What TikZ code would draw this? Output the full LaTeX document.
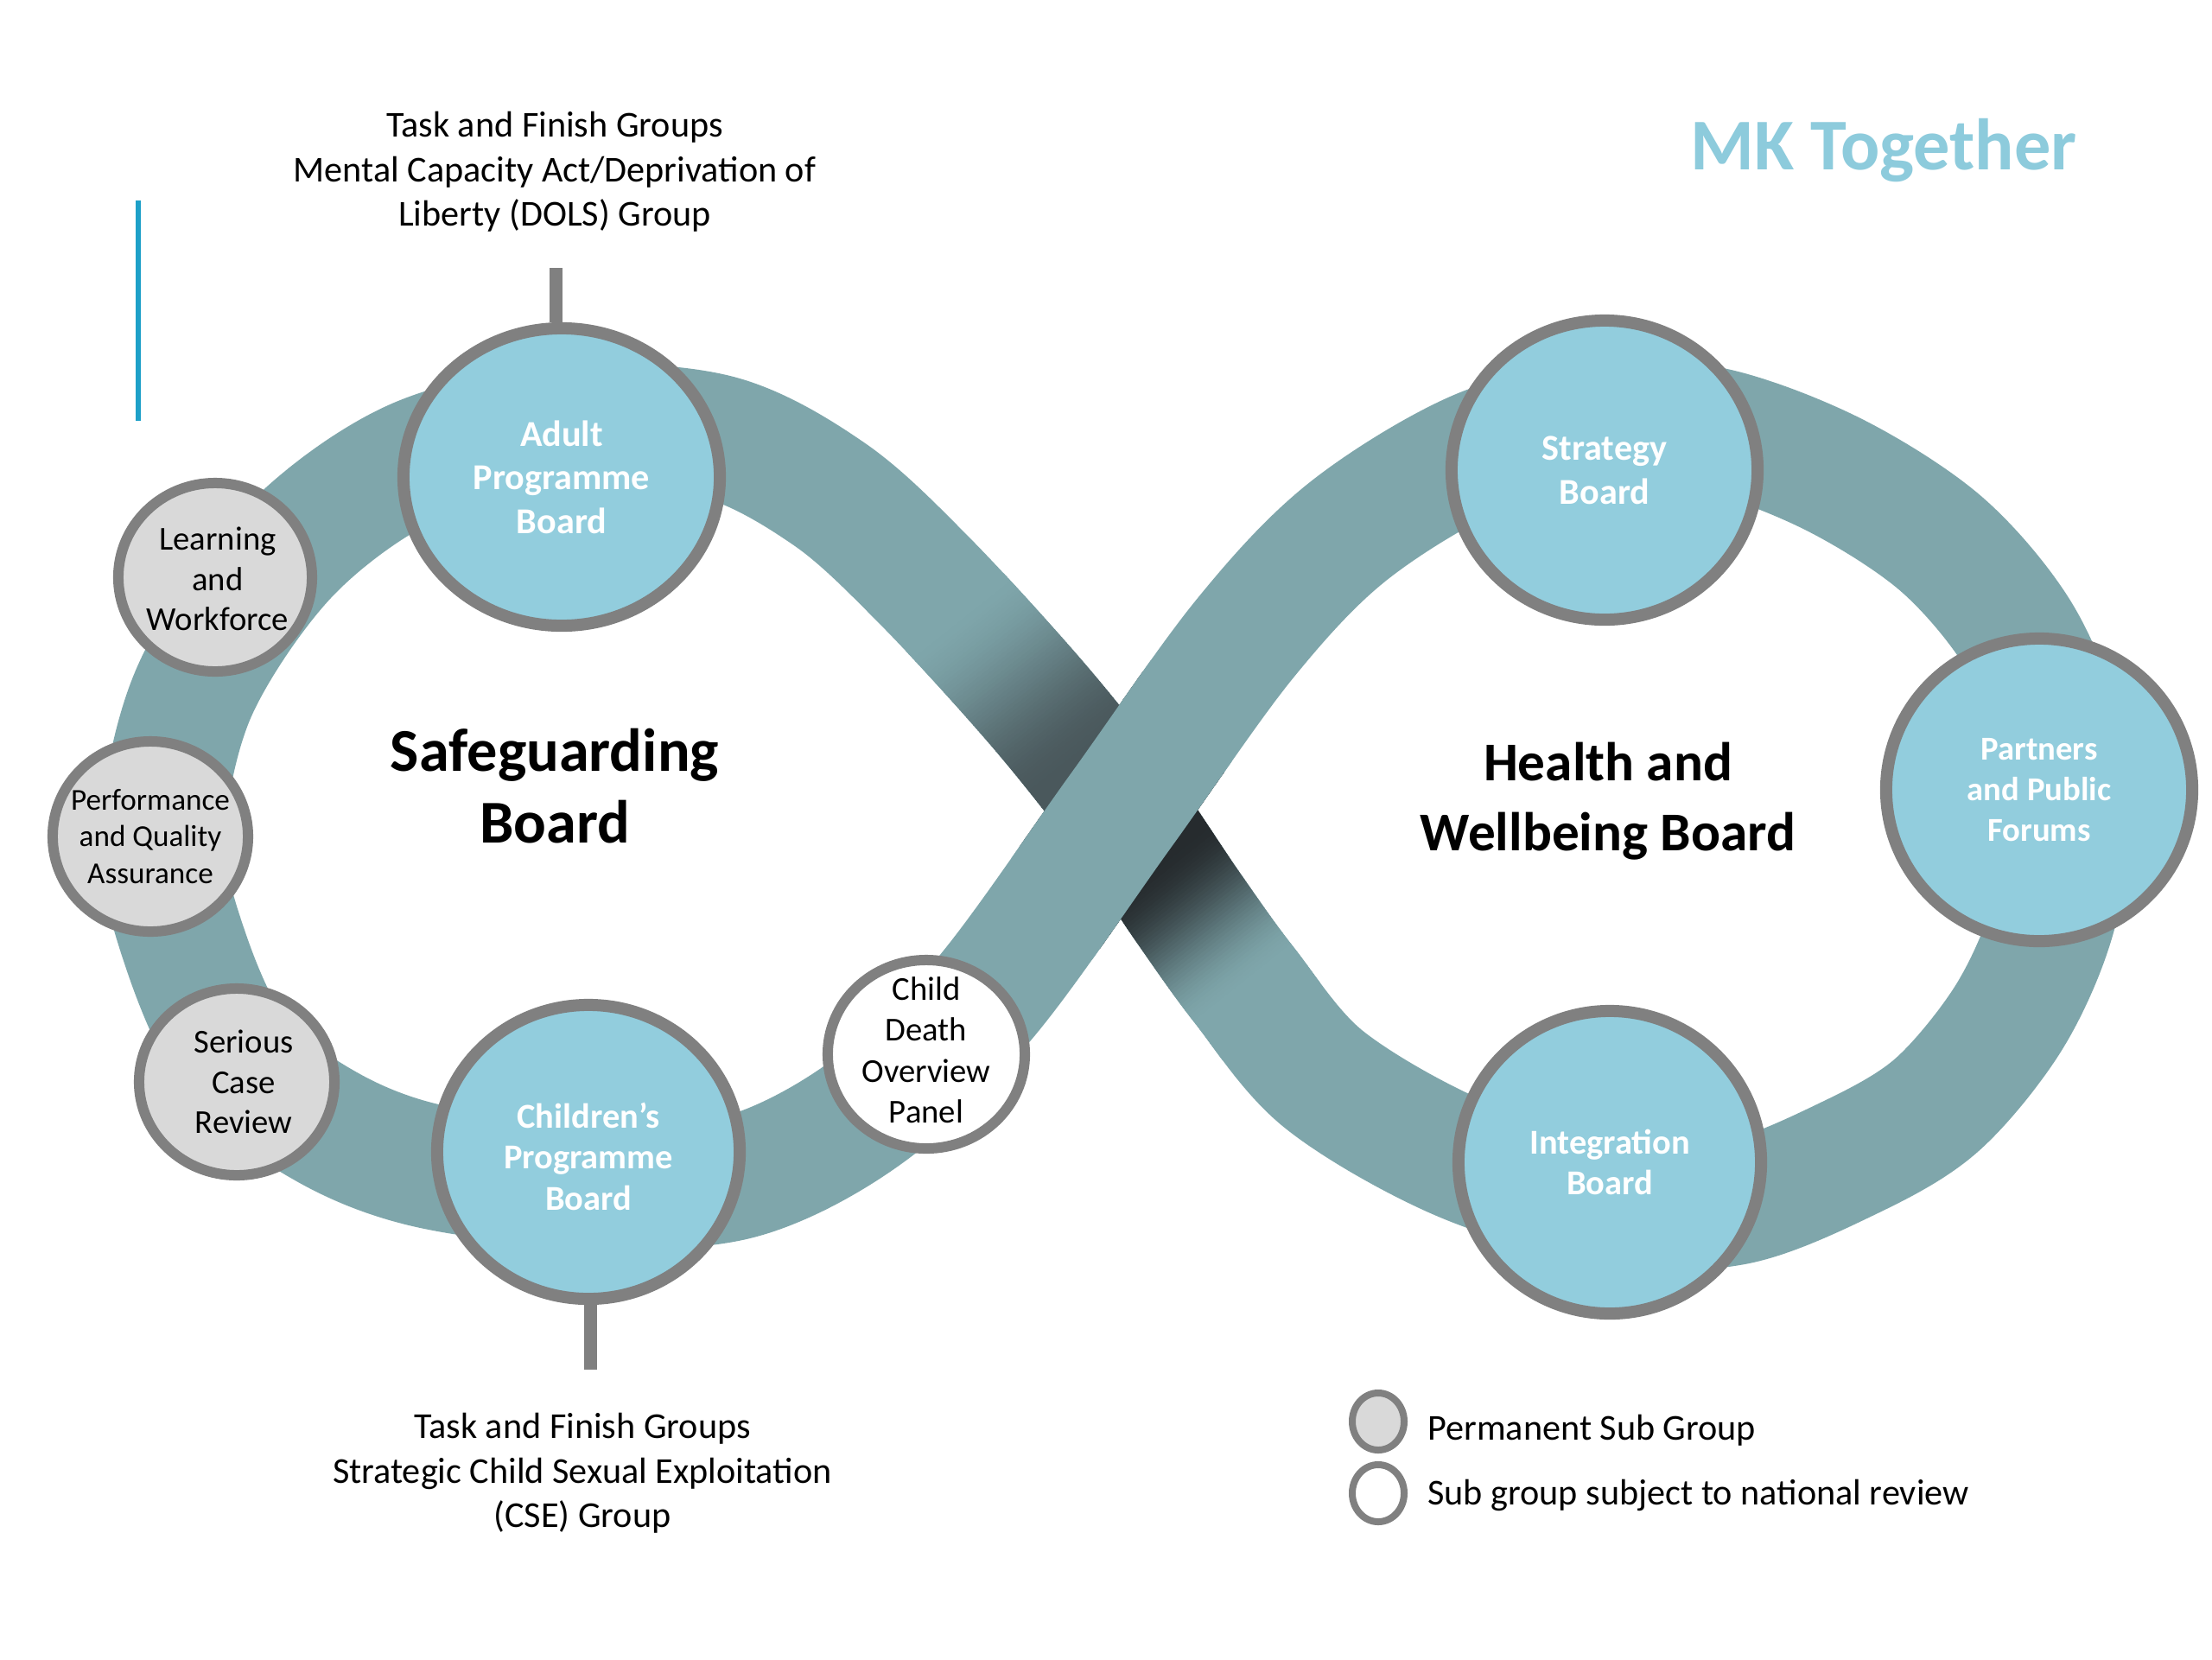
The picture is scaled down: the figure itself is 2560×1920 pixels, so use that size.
\documentclass[tikz,border=0pt]{standalone}
\usepackage{fontspec}
\setmainfont{Carlito}
\usetikzlibrary{shapes.geometric}
\definecolor{band}{RGB}{127,166,171}
\definecolor{boardfill}{RGB}{146,205,221}
\definecolor{ringgray}{RGB}{128,128,128}
\definecolor{subfill}{RGB}{217,217,217}
\definecolor{darkA}{RGB}{74,88,92}
\definecolor{darkB}{RGB}{38,43,46}
\definecolor{mkblue}{RGB}{141,203,220}
\definecolor{accent}{RGB}{30,160,200}
\tikzset{
  bandline/.style={line width=1.44cm, draw=band, line join=round},
  board/.style={ellipse, draw=ringgray, line width=0.14cm, fill=boardfill, inner sep=0pt},
  subgrp/.style={ellipse, draw=ringgray, line width=0.12cm, fill=subfill, inner sep=0pt},
  review/.style={ellipse, draw=ringgray, line width=0.12cm, fill=white, inner sep=0pt},
  boardtext/.style={align=center, text=white, font=\bfseries\fontsize{12}{14.4}\selectfont},
  subtext/.style={align=center, text=black, font=\fontsize{11}{13.3}\selectfont},
  conn/.style={draw=ringgray, line width=0.15cm},
  note/.style={align=center, font=\fontsize{12}{14.7}\selectfont},
  bigtitle/.style={align=center, font=\bfseries\fontsize{20}{23.6}\selectfont}
}
\begin{document}
\begin{tikzpicture}[x=0.01cm,y=-0.01cm]
\useasboundingbox (0,0) rectangle (2560,1920);
\fill[white] (0,0) rectangle (2560,1920);

% infinity band
\draw[bandline] plot[smooth cycle, tension=0.55] coordinates {
 (1298,937) (1200,814) (1070,672) (960,572) (828,505) (651,495) (478,535) (333,640)
 (225,800) (188,968) (215,1100) (275,1225) (380,1305) (499,1350) (682,1372) (855,1362)
 (1003,1287) (1140,1155) (1298,937) (1440,740) (1560,615) (1714,522) (1857,492)
 (1982,497) (2120,548) (2245,628) (2333,730) (2380,840) (2394,960) (2372,1075)
 (2322,1182) (2240,1280) (2140,1340) (2007,1392) (1863,1392) (1689,1340)
 (1532,1249) (1440,1140) (1375,1050)};

% shading of the under-passing band
\foreach \s in {-300,-296,...,296}{
  \pgfmathsetmacro\sm{\s+2}
  \pgfmathsetmacro\tl{max(0,min(1,(\sm+300)/225))}
  \pgfmathsetmacro\tr{max(0,min(1,(250-\sm)/175))}
  \pgfmathsetmacro\tt{\sm<0 ? \tl : \tr}
  \pgfmathsetmacro\pp{100*\tt*\tt*(3-2*\tt)}
  \pgfmathsetmacro\ax{1298+0.62*\s+93.6}
  \pgfmathsetmacro\ay{937+0.78*\s-74.4}
  \pgfmathsetmacro\bx{1298+0.62*\s-93.6}
  \pgfmathsetmacro\by{937+0.78*\s+74.4}
  \pgfmathsetmacro\cx{1298+0.62*(\s+5)-93.6}
  \pgfmathsetmacro\cy{937+0.78*(\s+5)+74.4}
  \pgfmathsetmacro\dx{1298+0.62*(\s+5)+93.6}
  \pgfmathsetmacro\dy{937+0.78*(\s+5)-74.4}
  \ifdim\sm pt<0pt \colorlet{grad}{darkA!\pp!band}\else\colorlet{grad}{darkB!\pp!band}\fi
  \begin{scope}
    \clip (\ax,\ay) -- (\bx,\by) -- (\cx,\cy) -- (\dx,\dy) -- cycle;
    \draw[bandline, draw=grad] plot[smooth cycle, tension=0.55] coordinates {
 (1298,937) (1200,814) (1070,672) (960,572) (828,505) (651,495) (478,535) (333,640)
 (225,800) (188,968) (215,1100) (275,1225) (380,1305) (499,1350) (682,1372) (855,1362)
 (1003,1287) (1140,1155) (1298,937) (1440,740) (1560,615) (1714,522) (1857,492)
 (1982,497) (2120,548) (2245,628) (2333,730) (2380,840) (2394,960) (2372,1075)
 (2322,1182) (2240,1280) (2140,1340) (2007,1392) (1863,1392) (1689,1340)
 (1532,1249) (1440,1140) (1375,1050)};
  \end{scope}
}

% over-passing band
\begin{scope}
  \clip (1217.3,619.3) -- (1006.7,786.7) -- (1378.7,1254.7) -- (1589.3,1087.3) -- cycle;
  \draw[bandline] plot[smooth, tension=0.55] coordinates {
   (855,1362) (1003,1287) (1140,1155) (1298,937) (1440,740) (1560,615) (1714,522)};
\end{scope}

% connectors
\coordinate (ttop) at (643,310);
\coordinate (bbot) at (683,1585);

% boards
\node[board, minimum width=3.66cm, minimum height=3.44cm] (adult) at (650,552) {};
\node[board, minimum width=3.50cm, minimum height=3.40cm] (cpb) at (681,1333) {};
\node[board, minimum width=3.54cm, minimum height=3.46cm] (strat) at (1857,544) {};
\node[board, minimum width=3.54cm, minimum height=3.50cm] (partn) at (2360,914) {};
\node[board, minimum width=3.50cm, minimum height=3.50cm] (integ) at (1863,1345) {};

\draw[conn] (ttop) -- (ttop |- adult.north);
\draw[conn] (bbot |- cpb.south) -- (bbot);

\node[boardtext] (adult-t) at (adult) {Adult\\Programme\\Board};
\node[boardtext, font=\bfseries\fontsize{11.5}{13.5}\selectfont] (cpb-t) at (681,1338) {Children’s\\Programme\\Board};
\node[boardtext] (strat-t) at (strat) {Strategy\\Board};
\node[boardtext, font=\bfseries\fontsize{11}{13.3}\selectfont] (partn-t) at (partn) {Partners\\and Public\\Forums};
\node[boardtext, font=\bfseries\fontsize{11.5}{13.3}\selectfont] (integ-t) at (integ) {Integration\\Board};

% sub groups
\node[subgrp, minimum width=2.24cm, minimum height=2.18cm] (learn) at (249,668) {};
\node[subgrp, minimum width=2.26cm, minimum height=2.20cm] (pqa) at (174,968) {};
\node[subgrp, minimum width=2.26cm, minimum height=2.16cm] (scr) at (274,1252) {};
\node[review, minimum width=2.28cm, minimum height=2.18cm] (cdop) at (1072,1220) {};

\node[subtext] (learn-t) at (252,670) {Learning\\and\\Workforce};
\node[subtext, font=\fontsize{10}{12.2}\selectfont] (pqa-t) at (pqa) {Performance\\and Quality\\Assurance};
\node[subtext] (scr-t) at (282,1252) {Serious\\Case\\Review};
\node[subtext, font=\fontsize{11}{13.5}\selectfont] (cdop-t) at (1072,1215) {Child\\Death\\Overview\\Panel};

% titles
\node[bigtitle] (sgb) at (642,910) {Safeguarding\\Board};
\node[bigtitle, font=\bfseries\fontsize{18}{23.2}\selectfont] (hwb) at (1861,927) {Health and\\Wellbeing Board};
\node[font=\bfseries\fontsize{24}{28}\selectfont, text=mkblue] (mk) at (2180,174) {MK Together};

% notes
\node[note] (topnote) at (642,199) {Task and Finish Groups\\Mental Capacity Act/Deprivation of\\Liberty (DOLS) Group};
\node[note] (botnote) at (674,1705) {Task and Finish Groups\\Strategic Child Sexual Exploitation\\(CSE) Group};

% accent line
\coordinate (acc1) at (160,232);
\coordinate (acc2) at (160,487);
\draw[accent, line width=0.06cm] (acc1) -- (acc2);

% legend
\node[subgrp, line width=0.08cm, minimum width=0.60cm, minimum height=0.66cm] (leg1) at (1595,1645) {};
\node[review, line width=0.08cm, minimum width=0.60cm, minimum height=0.66cm] (leg2) at (1595,1728) {};
\node[anchor=west, font=\fontsize{12}{14.4}\selectfont] (leg1-t) at (1640,1655) {Permanent Sub Group};
\node[anchor=west, font=\fontsize{12}{14.4}\selectfont] (leg2-t) at (1640,1730) {Sub group subject to national review};
\end{tikzpicture}
\end{document}
